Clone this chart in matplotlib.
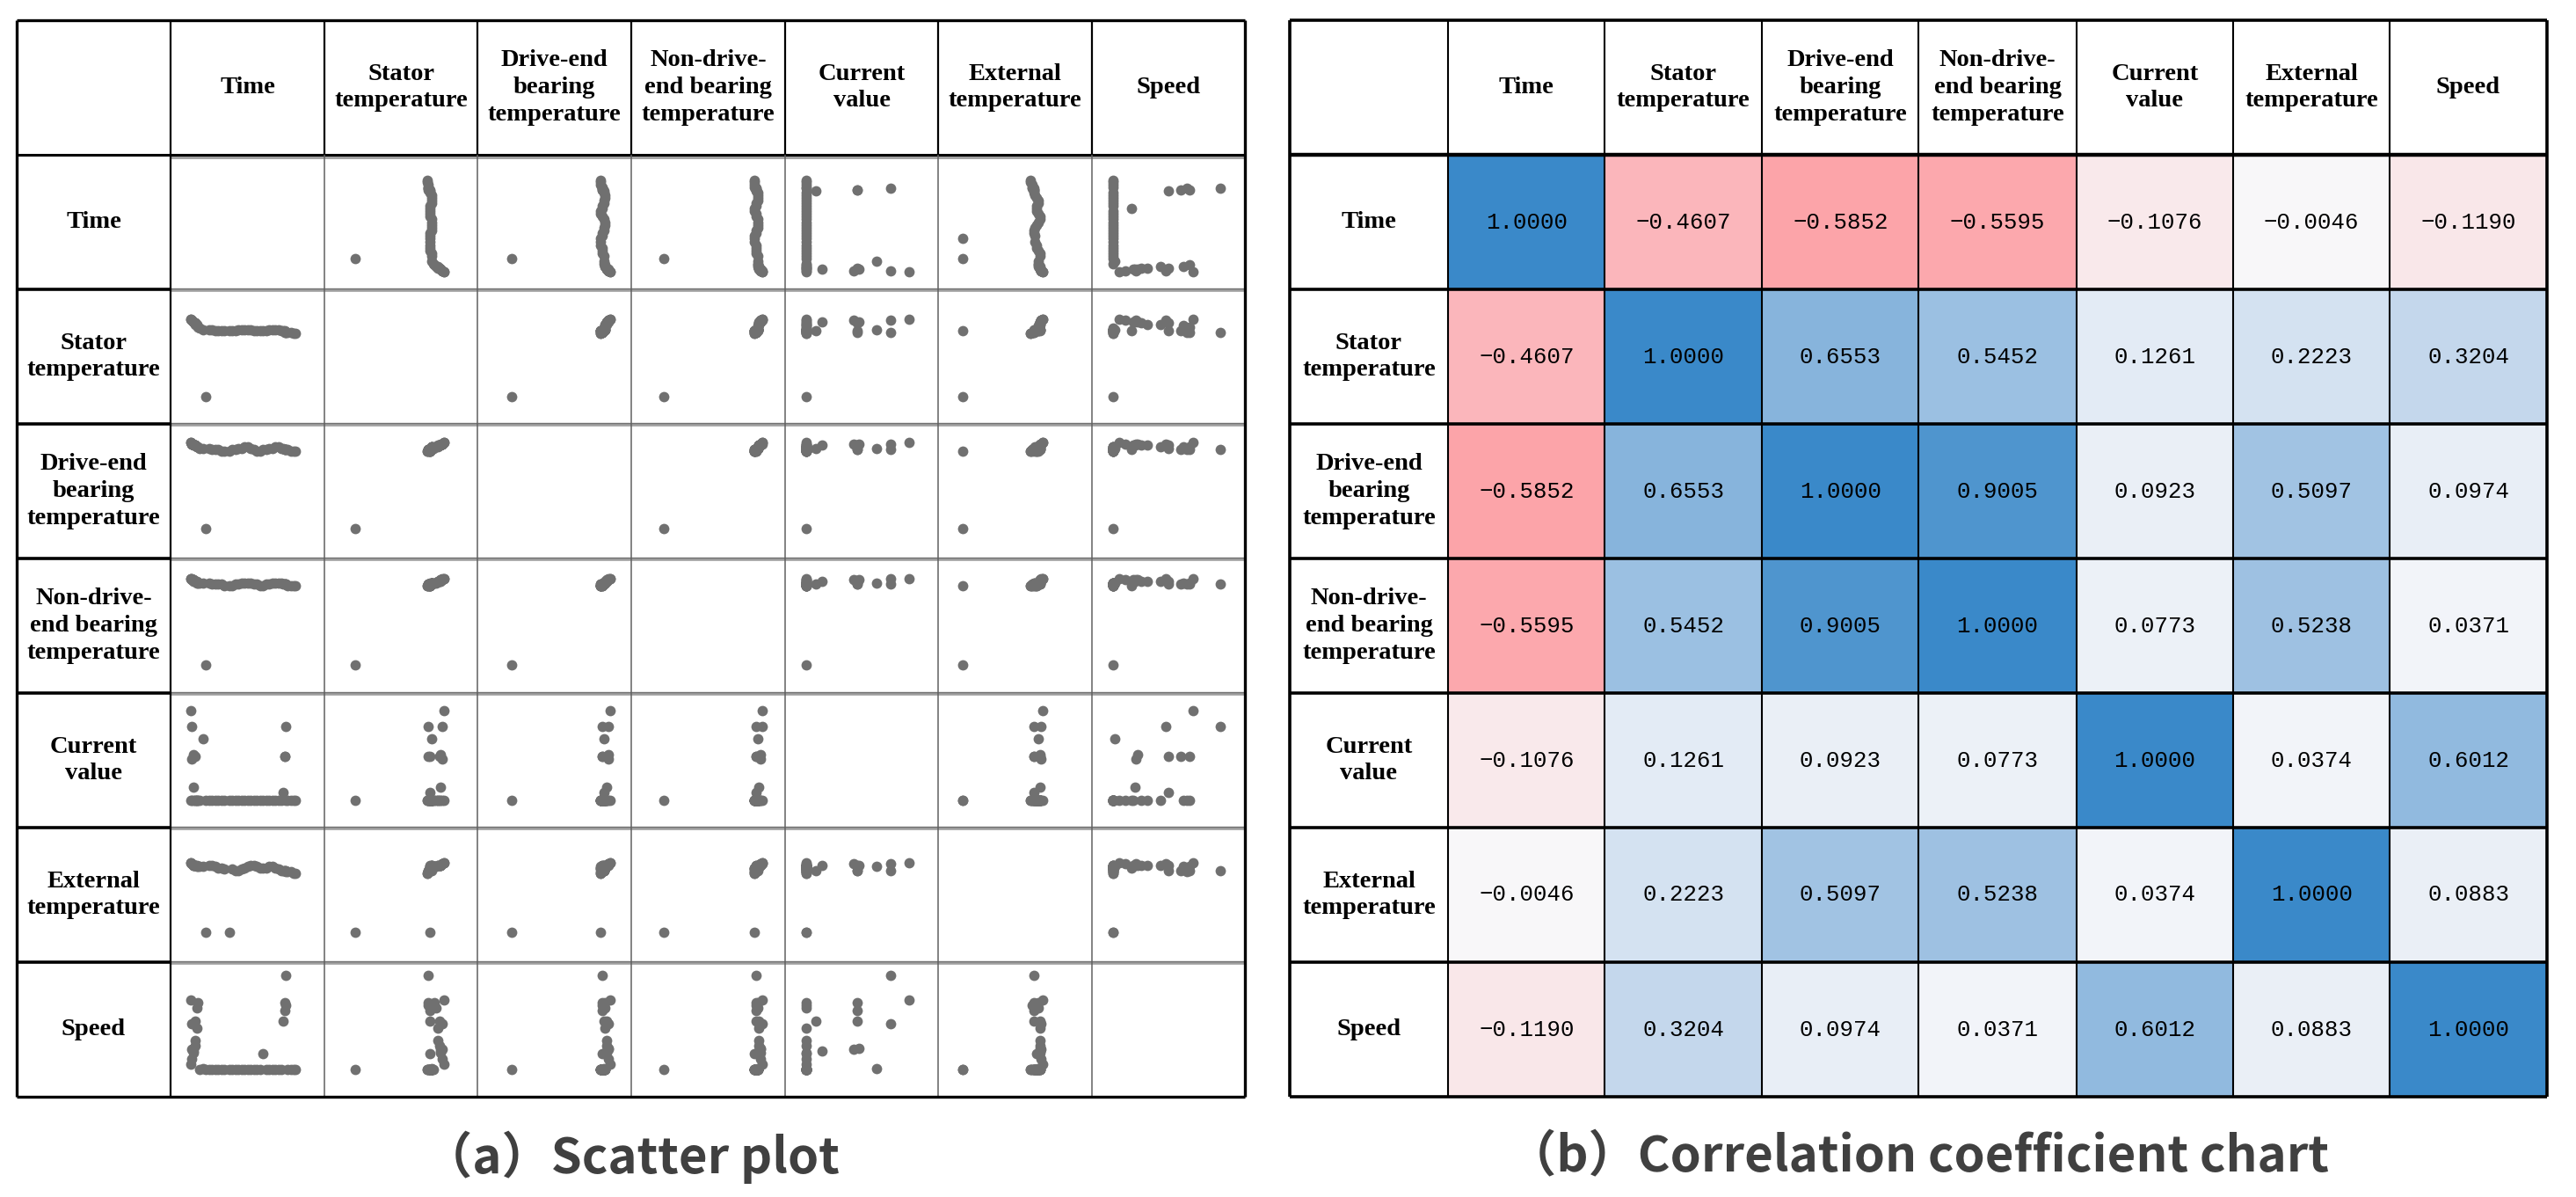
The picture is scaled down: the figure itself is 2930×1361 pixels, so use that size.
import numpy as np
import matplotlib
matplotlib.use('Agg')
import matplotlib.pyplot as plt
from matplotlib.colors import LinearSegmentedColormap

W, H = 2930, 1361

variables = ['Time', 'Stator\ntemperature', 'Drive-end\nbearing\ntemperature',
             'Non-drive-\nend bearing\ntemperature', 'Current\nvalue',
             'External\ntemperature', 'Speed']

# scatter readings, normalised to the position inside each cell (0-1)
time_v = [0.13, 0.13, 0.14, 0.14, 0.14, 0.15, 0.15, 0.15, 0.16, 0.16, 0.16, 0.17, 0.17,
          0.18, 0.19, 0.21, 0.23, 0.25, 0.27, 0.29, 0.31, 0.33, 0.35, 0.38, 0.40, 0.42,
          0.44, 0.46, 0.48, 0.50, 0.52, 0.54, 0.56, 0.58, 0.60, 0.62, 0.64, 0.66, 0.68,
          0.70, 0.72, 0.73, 0.74, 0.74, 0.75, 0.75, 0.76, 0.78, 0.80, 0.81]
stator_v = [0.78, 0.78, 0.77, 0.77, 0.77, 0.76, 0.76, 0.76, 0.75, 0.75, 0.74, 0.74, 0.73,
            0.72, 0.71, 0.70, 0.20, 0.70, 0.70, 0.69, 0.69, 0.69, 0.69, 0.69, 0.69, 0.69,
            0.70, 0.70, 0.70, 0.70, 0.70, 0.69, 0.69, 0.69, 0.69, 0.69, 0.70, 0.70, 0.70,
            0.70, 0.69, 0.69, 0.69, 0.68, 0.68, 0.68, 0.68, 0.68, 0.67, 0.67]
drive_v = [0.86, 0.86, 0.85, 0.85, 0.85, 0.85, 0.84, 0.84, 0.84, 0.84, 0.84, 0.83, 0.83,
           0.83, 0.82, 0.82, 0.22, 0.82, 0.81, 0.81, 0.81, 0.80, 0.80, 0.80, 0.81, 0.81,
           0.82, 0.82, 0.83, 0.83, 0.82, 0.81, 0.80, 0.80, 0.81, 0.81, 0.82, 0.82, 0.83,
           0.83, 0.82, 0.82, 0.81, 0.81, 0.81, 0.81, 0.81, 0.80, 0.80, 0.80]
nondrive_v = [0.85, 0.85, 0.85, 0.84, 0.84, 0.84, 0.84, 0.83, 0.83, 0.83, 0.83, 0.83, 0.82,
              0.82, 0.82, 0.82, 0.21, 0.82, 0.81, 0.81, 0.81, 0.81, 0.80, 0.80, 0.80, 0.81,
              0.81, 0.82, 0.82, 0.82, 0.82, 0.81, 0.81, 0.80, 0.80, 0.81, 0.81, 0.82, 0.82,
              0.82, 0.82, 0.81, 0.81, 0.81, 0.81, 0.81, 0.80, 0.80, 0.80, 0.80]
current_v = [0.81, 0.14, 0.69, 0.14, 0.45, 0.48, 0.14, 0.24, 0.14, 0.47, 0.14, 0.14, 0.14,
             0.14, 0.14, 0.60, 0.14, 0.14, 0.14, 0.14, 0.14, 0.14, 0.14, 0.14, 0.14, 0.14,
             0.14, 0.14, 0.14, 0.14, 0.14, 0.14, 0.14, 0.14, 0.14, 0.14, 0.14, 0.14, 0.14,
             0.14, 0.14, 0.20, 0.47, 0.47, 0.69, 0.14, 0.14, 0.14, 0.14, 0.14]
external_v = [0.68, 0.68, 0.67, 0.67, 0.67, 0.66, 0.66, 0.66, 0.66, 0.66, 0.66, 0.66, 0.65,
              0.65, 0.65, 0.65, 0.16, 0.66, 0.66, 0.65, 0.64, 0.64, 0.63, 0.16, 0.63, 0.62,
              0.62, 0.63, 0.64, 0.65, 0.66, 0.66, 0.65, 0.64, 0.64, 0.64, 0.65, 0.65, 0.64,
              0.63, 0.62, 0.62, 0.62, 0.62, 0.62, 0.61, 0.61, 0.61, 0.60, 0.60]
speed_v = [0.66, 0.18, 0.48, 0.22, 0.29, 0.30, 0.27, 0.28, 0.32, 0.50, 0.36, 0.45, 0.60,
           0.64, 0.14, 0.15, 0.14, 0.14, 0.14, 0.14, 0.14, 0.14, 0.14, 0.14, 0.14, 0.14,
           0.14, 0.14, 0.14, 0.14, 0.14, 0.14, 0.14, 0.14, 0.26, 0.14, 0.14, 0.14, 0.14,
           0.14, 0.14, 0.50, 0.58, 0.64, 0.84, 0.62, 0.14, 0.14, 0.14, 0.14]

corr_values = [
    [1.0000, -0.4607, -0.5852, -0.5595, -0.1076, -0.0046, -0.1190],
    [-0.4607, 1.0000, 0.6553, 0.5452, 0.1261, 0.2223, 0.3204],
    [-0.5852, 0.6553, 1.0000, 0.9005, 0.0923, 0.5097, 0.0974],
    [-0.5595, 0.5452, 0.9005, 1.0000, 0.0773, 0.5238, 0.0371],
    [-0.1076, 0.1261, 0.0923, 0.0773, 1.0000, 0.0374, 0.6012],
    [-0.0046, 0.2223, 0.5097, 0.5238, 0.0374, 1.0000, 0.0883],
    [-0.1190, 0.3204, 0.0974, 0.0371, 0.6012, 0.0883, 1.0000],
]

# table geometry (pixels)
left_cols = [19, 194, 369, 543, 718, 893, 1067, 1242, 1416]
right_cols = [1467, 1647, 1825, 2004, 2182, 2362, 2540, 2718, 2897]
rows = [23, 176, 329, 482, 635, 788, 941, 1094, 1247]


def fig_box(x0, x1, y0, y1):
    return [x0 / W, 1 - y1 / H, (x1 - x0) / W, (y1 - y0) / H]


cmap = LinearSegmentedColormap.from_list('rb', [
    (0.0, (255 / 255, 105 / 255, 112 / 255)),
    (0.5, (248 / 255, 248 / 255, 250 / 255)),
    (0.665, (195 / 255, 215 / 255, 236 / 255)),
    (0.83, (134 / 255, 179 / 255, 220 / 255)),
    (1.0, (58 / 255, 137 / 255, 201 / 255)),
])

fig = plt.figure(figsize=(W / 100, H / 100), dpi=100)
fig.patch.set_facecolor('white')

# (a) scatter matrix
series = [time_v, stator_v, drive_v, nondrive_v, current_v, external_v, speed_v]
shifted_rows = (4, 5, 6)   # these rows sit a little higher in their cells
for i in range(7):
    for j in range(7):
        sax = fig.add_axes(fig_box(left_cols[j + 1], left_cols[j + 2], rows[i + 1], rows[i + 2]))
        sax.set_xlim(0, 1)
        if i in shifted_rows:
            sax.set_ylim(-0.06, 0.94)
        else:
            sax.set_ylim(0, 1)
        sax.axis('off')
        if i != j:
            sax.scatter(series[j], series[i], s=72, color='#707070', linewidths=0)

# (b) correlation heatmap
hm = fig.add_axes(fig_box(right_cols[1], right_cols[8], rows[1], rows[8]))
corr = np.array(corr_values)
hm.pcolormesh(corr, cmap=cmap, vmin=-1, vmax=1)
hm.set_xlim(0, 7)
hm.set_ylim(7, 0)
hm.axis('off')
for i in range(7):
    for j in range(7):
        hm.text(j + 0.5, i + 0.5, f'{corr[i, j]:.4f}'.replace('-', '\u2212'),
                ha='center', va='center', fontsize=18.5,
                family=['Liberation Mono', 'DejaVu Sans Mono'], color='black')

# overlay for grid lines and labels
ax = fig.add_axes([0, 0, 1, 1])
ax.set_xlim(0, W)
ax.set_ylim(H, 0)
ax.axis('off')


def line(x0, x1, y0, y1, lw, color='black'):
    ax.plot([x0, x1], [y0, y1], color=color, lw=lw, solid_capstyle='butt')


label_font = dict(family='Liberation Serif', fontweight='bold', fontsize=20.5,
                  ha='center', va='center', linespacing=1.3)

# left table lines
for y in rows[2:-1]:
    line(left_cols[1], left_cols[-1], y + 1, y + 1, 2.6, '#a0a0a0')
    line(left_cols[1], left_cols[-1], y - 1, y - 1, 1.0, '#707070')
    line(left_cols[0], left_cols[1], y, y, 2.6)
line(left_cols[1], left_cols[-1], rows[1] + 3, rows[1] + 3, 2.0, '#a0a0a0')
line(left_cols[0], left_cols[-1], rows[1], rows[1], 2.2)
for x in left_cols[2:-1]:
    line(x, x, rows[1], rows[-1], 1.1, '#606060')
    line(x, x, rows[0], rows[1], 1.6)
line(left_cols[1], left_cols[1], rows[0], rows[-1], 1.6)
line(left_cols[0], left_cols[-1], rows[0], rows[0], 2.4)
line(left_cols[0], left_cols[-1], rows[-1], rows[-1], 2.4)
line(left_cols[0], left_cols[0], rows[0], rows[-1], 2.4)
line(left_cols[-1], left_cols[-1], rows[0], rows[-1], 2.4)

# right table lines
for y in rows[2:-1]:
    line(right_cols[0], right_cols[-1], y, y, 2.6)
line(right_cols[0], right_cols[-1], rows[1], rows[1], 3.2)
for x in right_cols[1:-1]:
    line(x, x, rows[0], rows[-1], 1.5)
line(right_cols[0], right_cols[-1], rows[0], rows[0], 2.6)
line(right_cols[0], right_cols[-1], rows[-1], rows[-1], 2.6)
line(right_cols[0], right_cols[0], rows[0], rows[-1], 2.6)
line(right_cols[-1], right_cols[-1], rows[0], rows[-1], 2.6)

# header and row labels
for cols in (left_cols, right_cols):
    for k, name in enumerate(variables):
        cx = (cols[k + 1] + cols[k + 2]) / 2
        ax.text(cx, (rows[0] + rows[1]) / 2, name, **label_font)
        cy = (rows[k + 1] + rows[k + 2]) / 2
        ax.text((cols[0] + cols[1]) / 2, cy, name, **label_font)

# captions
cap_font = dict(family=['Noto Sans CJK SC', 'DejaVu Sans'], fontweight='bold', fontsize=40.5,
                ha='center', va='center', color='#404040')
ax.text((left_cols[0] + left_cols[-1]) / 2, 1316, '（a）Scatter plot', **cap_font)
ax.text((right_cols[0] + right_cols[-1]) / 2, 1316, '（b）Correlation coefficient chart', **cap_font)

fig.savefig('out.png', dpi=100, facecolor='white')
